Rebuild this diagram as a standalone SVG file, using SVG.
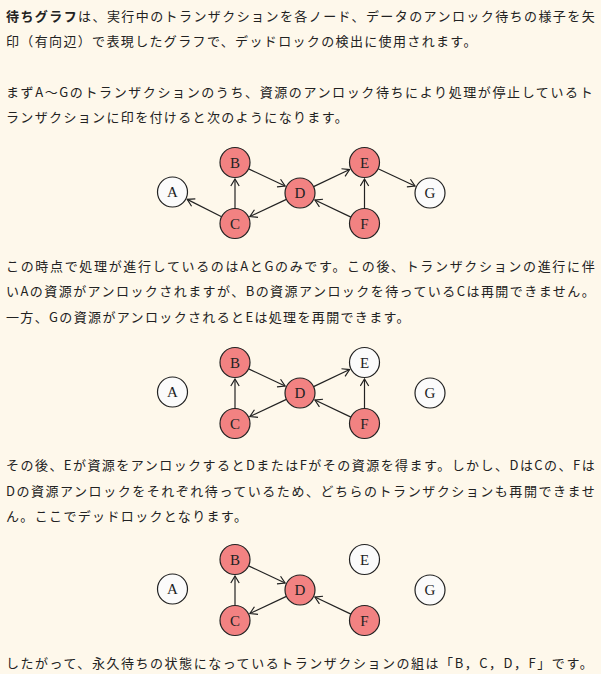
<svg xmlns="http://www.w3.org/2000/svg" width="601" height="674" viewBox="0 0 601 674">
<defs>
<style>
.t{font-family:"Noto Sans CJK JP","Noto Sans CJK SC",sans-serif;font-size:13px;fill:#222;letter-spacing:1.35px}
.b{font-weight:bold}
.n circle{stroke:#222;stroke-width:1.2}
.red{fill:#f28282}
.wht{fill:#fbfbfb}
.n text{font-family:"Liberation Serif","DejaVu Serif",serif;font-size:15px;fill:#222;text-anchor:middle}
.e line{stroke:#222;stroke-width:1.2;marker-end:url(#ah)}
</style>
<marker id="ah" viewBox="-8 -5 9 10" refX="0" refY="0" markerWidth="9" markerHeight="10" markerUnits="userSpaceOnUse" orient="auto">
<path d="M-7,-4.2 L0,0 L-7,4.2" fill="none" stroke="#222" stroke-width="1.2"/>
</marker>
</defs>
<rect width="601" height="674" fill="#fef8eb"/>

<g id="text">
<text class="t" x="6" y="20.5" textLength="590" lengthAdjust="spacing"><tspan class="b">待ちグラフ</tspan>は、実行中のトランザクションを各ノード、データのアンロック待ちの様子を矢</text>
<text class="t" x="6" y="46.3">印（有向辺）で表現したグラフで、デッドロックの検出に使用されます。</text>
<text class="t" x="6" y="96.5" textLength="588" lengthAdjust="spacing">まずA〜Gのトランザクションのうち、資源のアンロック待ちにより処理が停止しているト</text>
<text class="t" x="6" y="122">ランザクションに印を付けると次のようになります。</text>
<text class="t" x="6" y="271" textLength="590" lengthAdjust="spacing">この時点で処理が進行しているのはAとGのみです。この後、トランザクションの進行に伴</text>
<text class="t" x="6" y="296.3" textLength="590" lengthAdjust="spacing">いAの資源がアンロックされますが、Bの資源アンロックを待っているCは再開できません。</text>
<text class="t" x="6" y="321.7">一方、Gの資源がアンロックされるとEは処理を再開できます。</text>
<text class="t" x="6" y="470" textLength="590" lengthAdjust="spacing">その後、Eが資源をアンロックするとDまたはFがその資源を得ます。しかし、DはCの、Fは</text>
<text class="t" x="6" y="495.5" textLength="590" lengthAdjust="spacing">Dの資源アンロックをそれぞれ待っているため、どちらのトランザクションも再開できませ</text>
<text class="t" x="6" y="521">ん。ここでデッドロックとなります。</text>
<text class="t" x="6" y="668" textLength="588" lengthAdjust="spacing">したがって、永久待ちの状態になっているトランザクションの組は「B，C，D，F」です。</text>
</g>

<!-- Graph 1 -->
<g id="graph1">
<g id="g1-edges" class="e">
<line x1="221.6" y1="216.75" x2="187.2" y2="199.4"/>
<line x1="235" y1="208.5" x2="235" y2="179"/>
<line x1="248.6" y1="168.9" x2="285.1" y2="186"/>
<line x1="286.4" y1="199.4" x2="249.9" y2="216.5"/>
<line x1="313.6" y1="186.6" x2="349.6" y2="169.55"/>
<line x1="350.9" y1="217.1" x2="314.9" y2="200.05"/>
<line x1="364.5" y1="208.5" x2="364.5" y2="179"/>
<line x1="378.1" y1="168.8" x2="415" y2="186"/>
</g>
<g id="g1-A" class="n"><circle class="wht" cx="172.5" cy="192" r="15"/><text x="172.5" y="197.2">A</text></g>
<g id="g1-B" class="n"><circle class="red" cx="235" cy="162.5" r="15"/><text x="235" y="167.7">B</text></g>
<g id="g1-C" class="n"><circle class="red" cx="235" cy="223.5" r="15"/><text x="235" y="228.7">C</text></g>
<g id="g1-D" class="n"><circle class="red" cx="300" cy="193" r="15"/><text x="300" y="198.2">D</text></g>
<g id="g1-E" class="n"><circle class="red" cx="364.5" cy="162.5" r="15"/><text x="364.5" y="167.7">E</text></g>
<g id="g1-F" class="n"><circle class="red" cx="364.5" cy="223.5" r="15"/><text x="364.5" y="228.7">F</text></g>
<g id="g1-G" class="n"><circle class="wht" cx="430" cy="193" r="15"/><text x="430" y="198.2">G</text></g>
</g>

<!-- Graph 2 -->
<g id="graph2" transform="translate(0,200)">
<g id="g2-edges" class="e">
<line x1="235" y1="208.5" x2="235" y2="179"/>
<line x1="248.6" y1="168.9" x2="285.1" y2="186"/>
<line x1="286.4" y1="199.4" x2="249.9" y2="216.5"/>
<line x1="313.6" y1="186.6" x2="349.6" y2="169.55"/>
<line x1="350.9" y1="217.1" x2="314.9" y2="200.05"/>
<line x1="364.5" y1="208.5" x2="364.5" y2="179"/>
</g>
<g id="g2-A" class="n"><circle class="wht" cx="172.5" cy="192" r="15"/><text x="172.5" y="197.2">A</text></g>
<g id="g2-B" class="n"><circle class="red" cx="235" cy="162.5" r="15"/><text x="235" y="167.7">B</text></g>
<g id="g2-C" class="n"><circle class="red" cx="235" cy="223.5" r="15"/><text x="235" y="228.7">C</text></g>
<g id="g2-D" class="n"><circle class="red" cx="300" cy="193" r="15"/><text x="300" y="198.2">D</text></g>
<g id="g2-E" class="n"><circle class="wht" cx="364.5" cy="162.5" r="15"/><text x="364.5" y="167.7">E</text></g>
<g id="g2-F" class="n"><circle class="red" cx="364.5" cy="223.5" r="15"/><text x="364.5" y="228.7">F</text></g>
<g id="g2-G" class="n"><circle class="wht" cx="430" cy="193" r="15"/><text x="430" y="198.2">G</text></g>
</g>

<!-- Graph 3 -->
<g id="graph3" transform="translate(0,397)">
<g id="g3-edges" class="e">
<line x1="235" y1="208.5" x2="235" y2="179"/>
<line x1="248.6" y1="168.9" x2="285.1" y2="186"/>
<line x1="286.4" y1="199.4" x2="249.9" y2="216.5"/>
<line x1="350.9" y1="217.1" x2="314.9" y2="200.05"/>
</g>
<g id="g3-A" class="n"><circle class="wht" cx="172.5" cy="192" r="15"/><text x="172.5" y="197.2">A</text></g>
<g id="g3-B" class="n"><circle class="red" cx="235" cy="162.5" r="15"/><text x="235" y="167.7">B</text></g>
<g id="g3-C" class="n"><circle class="red" cx="235" cy="223.5" r="15"/><text x="235" y="228.7">C</text></g>
<g id="g3-D" class="n"><circle class="red" cx="300" cy="193" r="15"/><text x="300" y="198.2">D</text></g>
<g id="g3-E" class="n"><circle class="wht" cx="364.5" cy="162.5" r="15"/><text x="364.5" y="167.7">E</text></g>
<g id="g3-F" class="n"><circle class="red" cx="364.5" cy="223.5" r="15"/><text x="364.5" y="228.7">F</text></g>
<g id="g3-G" class="n"><circle class="wht" cx="430" cy="193" r="15"/><text x="430" y="198.2">G</text></g>
</g>
</svg>
